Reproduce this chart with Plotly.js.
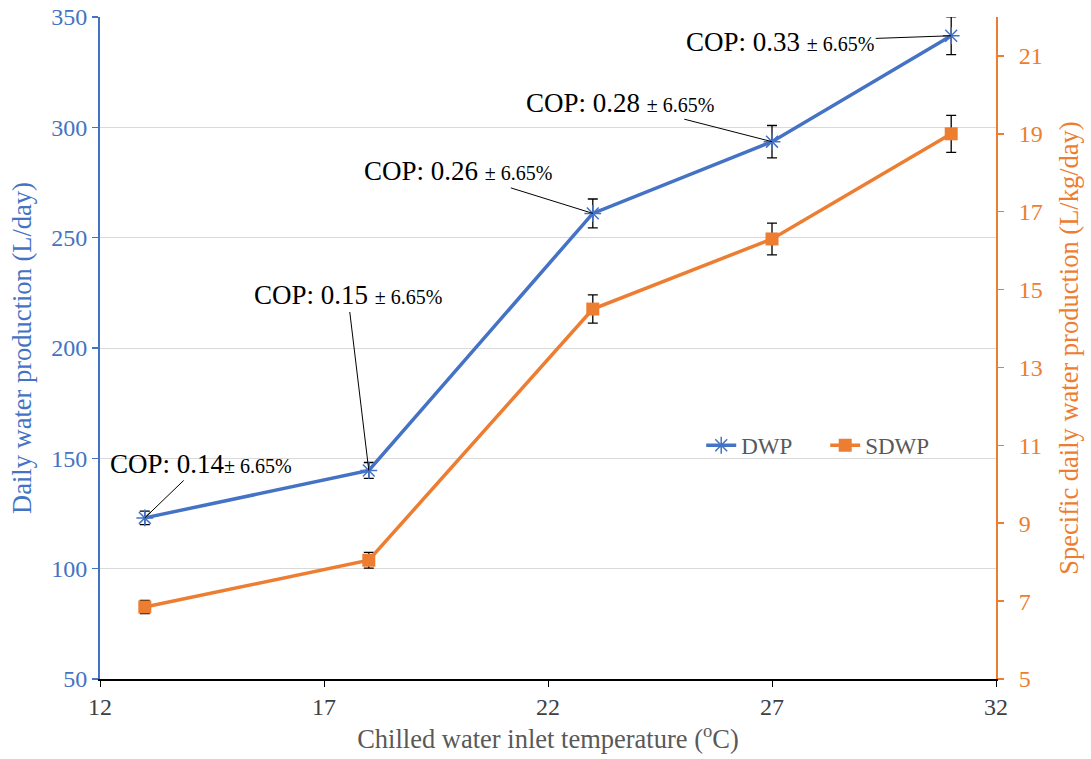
<!DOCTYPE html>
<html>
<head>
<meta charset="utf-8">
<script src="https://cdn.plot.ly/plotly-3.0.1.min.js"></script>
<style>html,body{margin:0;padding:0;background:#fff;}#chart{width:1091px;height:759px;}</style>
</head>
<body>
<div id="chart"></div>
<script>
// Data
const temperature = [13, 18, 23, 27, 31];
const dwp = [123, 144.5, 261, 293.5, 341.5];      // Daily water production (L/day)
const sdwp = [6.85, 8.05, 14.5, 16.3, 19.0];      // Specific daily water production (L/kg/day)
const errorPercent = 2.5;
const copLabels = ["COP: 0.14", "COP: 0.15 ", "COP: 0.26 ", "COP: 0.28 ", "COP: 0.33 "];
const copUncertainty = ["± 6.65%", "± 6.65%", "± 6.65%", "± 6.65%", "± 6.65%"];
const xTicks = [12, 17, 22, 27, 32];
const yLeftTicks = [50, 100, 150, 200, 250, 300, 350];
const yRightTicks = [5, 7, 9, 11, 13, 15, 17, 19, 21];

const blue = '#4472C4';
const orange = '#ED7D31';
const serif = 'Liberation Serif, Times New Roman, serif';

const traces = [
  {
    x: temperature, y: dwp, name: 'DWP', type: 'scatter', mode: 'lines+markers',
    line: {color: blue, width: 3.5},
    marker: {symbol: 'asterisk-open', size: 14, color: blue, line: {color: blue, width: 1.5}},
    error_y: {type: 'percent', value: errorPercent, color: '#000', thickness: 1.3, width: 5},
    hoverinfo: 'skip'
  },
  {
    x: temperature, y: sdwp, name: 'SDWP', type: 'scatter', mode: 'lines+markers', yaxis: 'y2',
    line: {color: orange, width: 3.5},
    marker: {symbol: 'square', size: 13, color: orange},
    error_y: {type: 'percent', value: errorPercent, color: '#000', thickness: 1.3, width: 5},
    hoverinfo: 'skip'
  }
];

// label offsets (pixels) from each point to its text
const offsets = [[56, -54], [-21, -175], [-135, -42], [-152, -39], [-171, 6]];
const annotations = temperature.map((t, i) => ({
  x: t, y: dwp[i], xref: 'x', yref: 'y',
  text: copLabels[i] + '<span style="font-size:20px">' + copUncertainty[i] + '</span>',
  showarrow: true, arrowhead: 0, arrowwidth: 1, arrowcolor: '#000',
  ax: offsets[i][0], ay: offsets[i][1],
  font: {family: serif, size: 27, color: '#000'}
}));

const layout = {
  width: 1091, height: 759,
  margin: {l: 100, r: 95, t: 17, b: 80},
  paper_bgcolor: '#fff', plot_bgcolor: '#fff',
  showlegend: true,
  legend: {orientation: 'h', x: 0.671, y: 0.353, xanchor: 'left', yanchor: 'middle',
           entrywidth: 79, entrywidthmode: 'pixels',
           bgcolor: 'rgba(0,0,0,0)', font: {family: serif, size: 23, color: '#595959'}},
  xaxis: {
    range: [12, 32], tickvals: xTicks, ticktext: xTicks.map(String),
    showline: true, linecolor: '#000', linewidth: 1.5, mirror: false,
    ticks: 'outside', ticklen: 6, tickcolor: '#000', tickwidth: 1,
    showgrid: false, zeroline: false,
    tickfont: {family: serif, size: 24, color: '#404040'},
    title: {text: 'Chilled water inlet temperature (<sup>o</sup>C)', standoff: 6,
            font: {family: serif, size: 26.5, color: '#595959'}}
  },
  yaxis: {
    range: [50, 350], tickvals: yLeftTicks, ticktext: yLeftTicks.map(String),
    showline: true, linecolor: blue, linewidth: 2,
    ticks: 'outside', ticklen: 6, tickcolor: blue, tickwidth: 1.5,
    showgrid: true, gridcolor: '#D9D9D9', gridwidth: 1, zeroline: false,
    tickfont: {family: serif, size: 24, color: blue},
    title: {text: 'Daily water production (L/day)', standoff: 12,
            font: {family: serif, size: 26.5, color: blue}}
  },
  yaxis2: {
    range: [5, 22], tickvals: yRightTicks, ticktext: yRightTicks.map(String),
    overlaying: 'y', side: 'right',
    showline: true, linecolor: orange, linewidth: 2,
    ticks: 'outside', ticklen: 6, tickcolor: orange, tickwidth: 1.5,
    ticklabelstandoff: 10,
    showgrid: false, zeroline: false,
    tickfont: {family: serif, size: 24, color: orange},
    title: {text: 'Specific daily water production (L/kg/day)', standoff: 18,
            font: {family: serif, size: 26.5, color: orange}}
  },
  annotations: annotations
};

Plotly.newPlot('chart', traces, layout, {staticPlot: true, displayModeBar: false});
</script>
</body>
</html>
